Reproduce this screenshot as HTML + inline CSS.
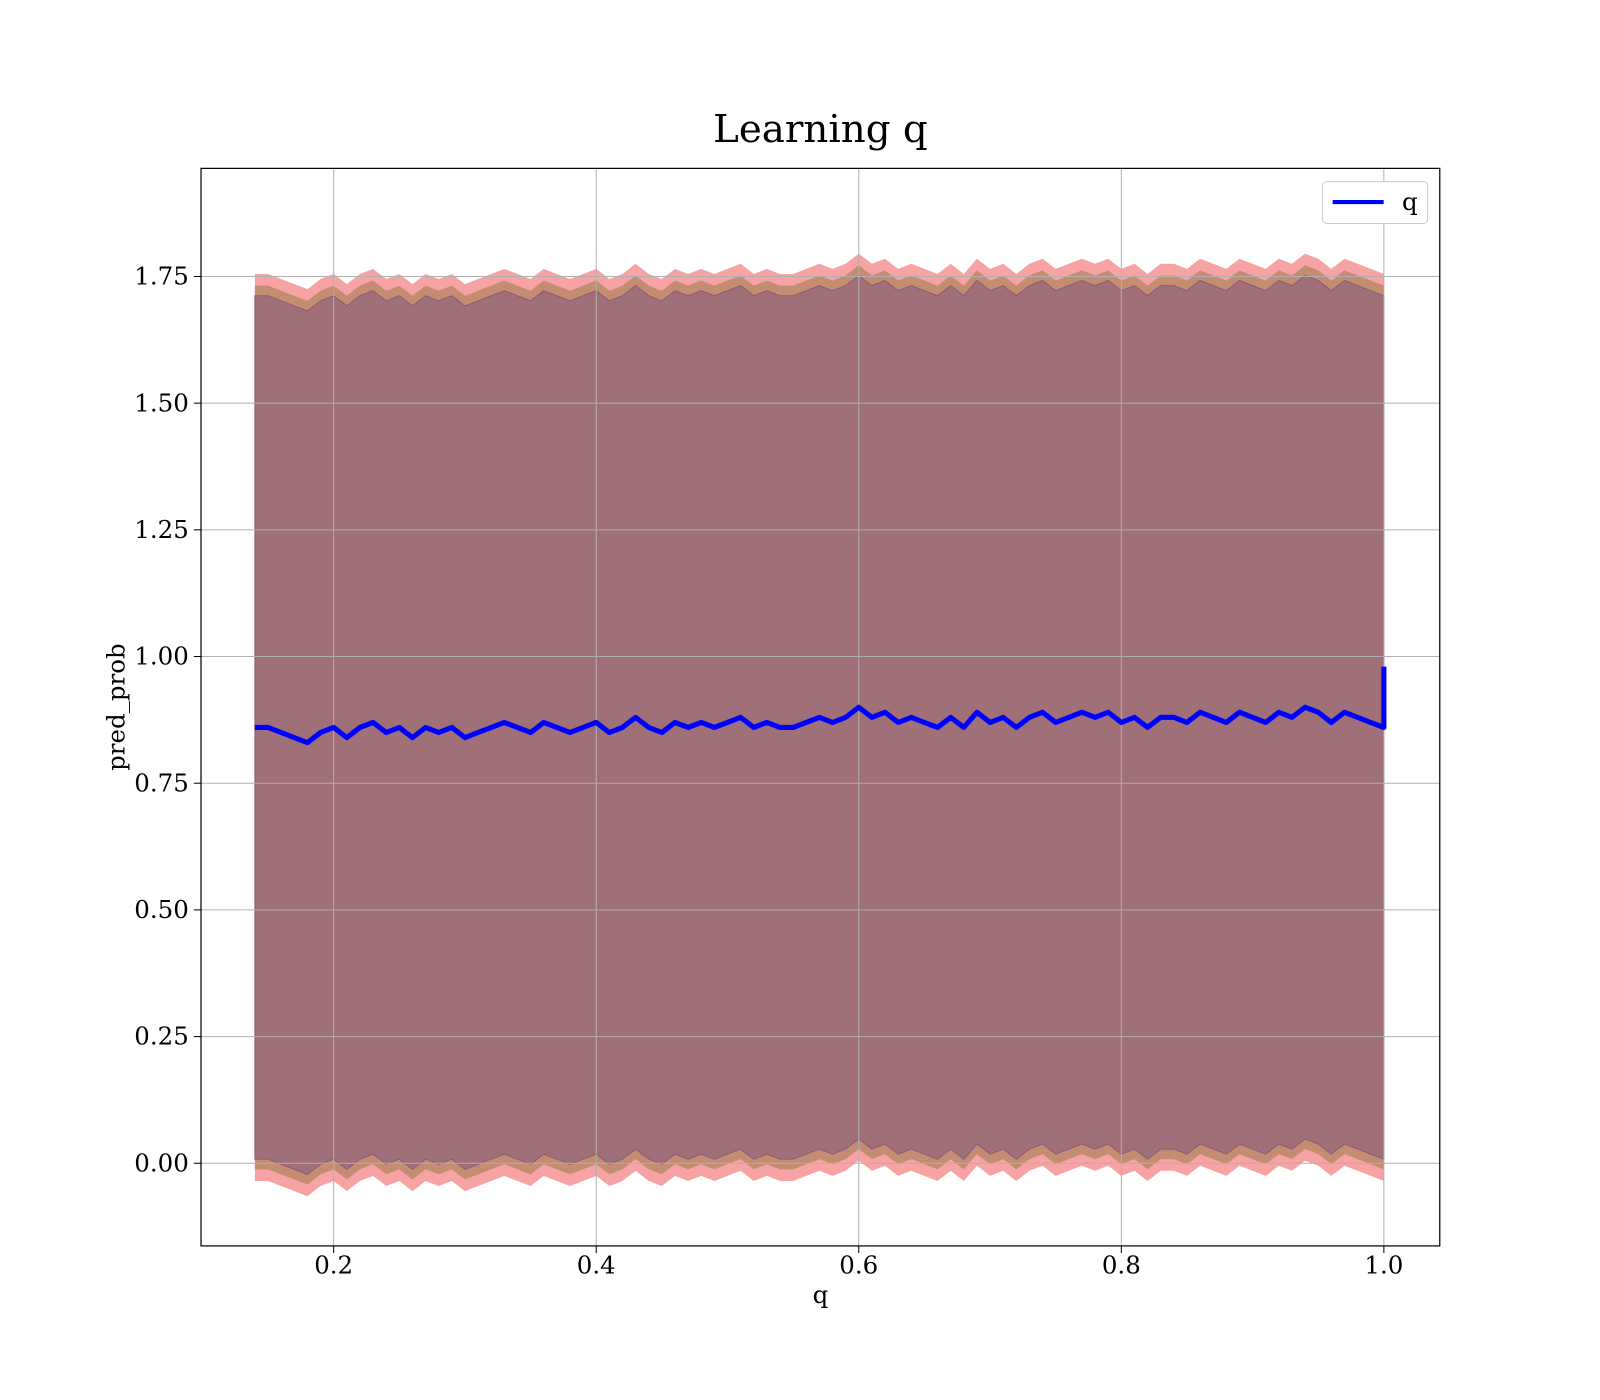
<!DOCTYPE html>
<html><head><meta charset="utf-8"><style>
body{margin:0;background:#fff;}
svg{display:block;font-family:"DejaVu Serif","Liberation Serif",serif;}
</style></head><body>
<svg id="chart" width="1600" height="1400" viewBox="0 0 1600 1400">
<g transform="scale(1.0204)">
<text x="804" y="139" text-anchor="middle" font-size="38">Learning q</text>
<g id="bands"></g>
<g id="grid"></g>
<g id="series"></g>
<rect x="197" y="165" width="1214" height="1056" fill="none" stroke="#000" stroke-width="1.2"/>
<g id="xticks"></g>
<g id="yticks"></g>
<text x="804" y="1277" text-anchor="middle" font-size="24">q</text>
<text transform="translate(122,693) rotate(-90)" text-anchor="middle" font-size="24">pred_prob</text>
<g>
<rect x="1296" y="178" width="103" height="41" rx="4" fill="#fff" stroke="#ccc"/>
<line x1="1306" y1="198" x2="1356" y2="198" stroke="#0000ff" stroke-width="4"/>
<text x="1374" y="206" font-size="24">q</text>
</g>
</g>
</svg>
<script>
const xStart = 0.14, xStep = 0.01;
const qValues = [0.86,0.86,0.85,0.84,0.83,0.85,0.86,0.84,0.86,0.87,0.85,0.86,0.84,0.86,0.85,0.86,0.84,0.85,0.86,0.87,0.86,0.85,0.87,0.86,0.85,0.86,0.87,0.85,0.86,0.88,0.86,0.85,0.87,0.86,0.87,0.86,0.87,0.88,0.86,0.87,0.86,0.86,0.87,0.88,0.87,0.88,0.90,0.88,0.89,0.87,0.88,0.87,0.86,0.88,0.86,0.89,0.87,0.88,0.86,0.88,0.89,0.87,0.88,0.89,0.88,0.89,0.87,0.88,0.86,0.88,0.88,0.87,0.89,0.88,0.87,0.89,0.88,0.87,0.89,0.88,0.90,0.89,0.87,0.89,0.88,0.87,0.86];
const endSpike = 0.98;
const xTicks = [0.2,0.4,0.6,0.8,1.0];
const xTickLabels = ["0.2","0.4","0.6","0.8","1.0"];
const yTicks = [0,0.25,0.5,0.75,1.0,1.25,1.5,1.75];
const yTickLabels = ["0.00","0.25","0.50","0.75","1.00","1.25","1.50","1.75"];
const bandWidths = [0.895,0.872,0.852];
const bandColors = ["#f8a3a3","#c48d72","#a07078"];

const X = v => 327 + (v-0.2)/0.2*257.3;
const Y = v => 1140 - v*496.6;
const NS = "http://www.w3.org/2000/svg";
const xs = qValues.map((_,i)=>xStart+i*xStep);

const bands = document.getElementById('bands');
bandWidths.forEach((w,k)=>{
  const up = qValues.map((v,i)=>X(xs[i]).toFixed(1)+','+Y(v+w).toFixed(1));
  const dn = qValues.map((v,i)=>X(xs[i]).toFixed(1)+','+Y(v-w).toFixed(1)).reverse();
  const p = document.createElementNS(NS,'polygon');
  p.setAttribute('points', up.concat(dn).join(' '));
  p.setAttribute('fill', bandColors[k]);
  if(k===2){p.setAttribute('stroke','#8c5c72');p.setAttribute('stroke-width','1');}
  
  
  bands.appendChild(p);
});

const grid = document.getElementById('grid');
const xt = document.getElementById('xticks');
xTicks.forEach((t,i)=>{
  const l = document.createElementNS(NS,'line');
  l.setAttribute('x1',X(t));l.setAttribute('x2',X(t));l.setAttribute('y1',165);l.setAttribute('y2',1221);
  l.setAttribute('stroke','#b0b0b0');l.setAttribute('stroke-width','1');
  
  
  grid.appendChild(l);
  const tk = document.createElementNS(NS,'line');
  tk.setAttribute('x1',X(t));tk.setAttribute('x2',X(t));tk.setAttribute('y1',1221);tk.setAttribute('y2',1228);
  tk.setAttribute('stroke','#000');
  
  
  xt.appendChild(tk);
  const tx = document.createElementNS(NS,'text');
  tx.setAttribute('x',X(t));tx.setAttribute('y',1248);tx.setAttribute('text-anchor','middle');tx.setAttribute('font-size','24');
  tx.textContent = xTickLabels[i];
  
  
  xt.appendChild(tx);
});
const yt = document.getElementById('yticks');
yTicks.forEach((t,i)=>{
  const l = document.createElementNS(NS,'line');
  l.setAttribute('x1',197);l.setAttribute('x2',1411);l.setAttribute('y1',Y(t));l.setAttribute('y2',Y(t));
  l.setAttribute('stroke','#b0b0b0');l.setAttribute('stroke-width','1');
  
  
  grid.appendChild(l);
  const tk = document.createElementNS(NS,'line');
  tk.setAttribute('x1',190);tk.setAttribute('x2',197);tk.setAttribute('y1',Y(t));tk.setAttribute('y2',Y(t));
  tk.setAttribute('stroke','#000');
  
  
  yt.appendChild(tk);
  const tx = document.createElementNS(NS,'text');
  tx.setAttribute('x',185);tx.setAttribute('y',Y(t)+8);tx.setAttribute('text-anchor','end');tx.setAttribute('font-size','24');
  tx.textContent = yTickLabels[i];
  
  
  yt.appendChild(tx);
});

const pts = qValues.map((v,i)=>X(xs[i]).toFixed(1)+','+Y(v).toFixed(1));
pts.push(X(xs[xs.length-1]).toFixed(1)+','+Y(endSpike).toFixed(1));
const line = document.createElementNS(NS,'polyline');
line.setAttribute('points', pts.join(' '));
line.setAttribute('fill','none');line.setAttribute('stroke','#0000ff');line.setAttribute('stroke-width','5');
line.setAttribute('stroke-linejoin','round');


document.getElementById('series').appendChild(line);
</script>
</body></html>
